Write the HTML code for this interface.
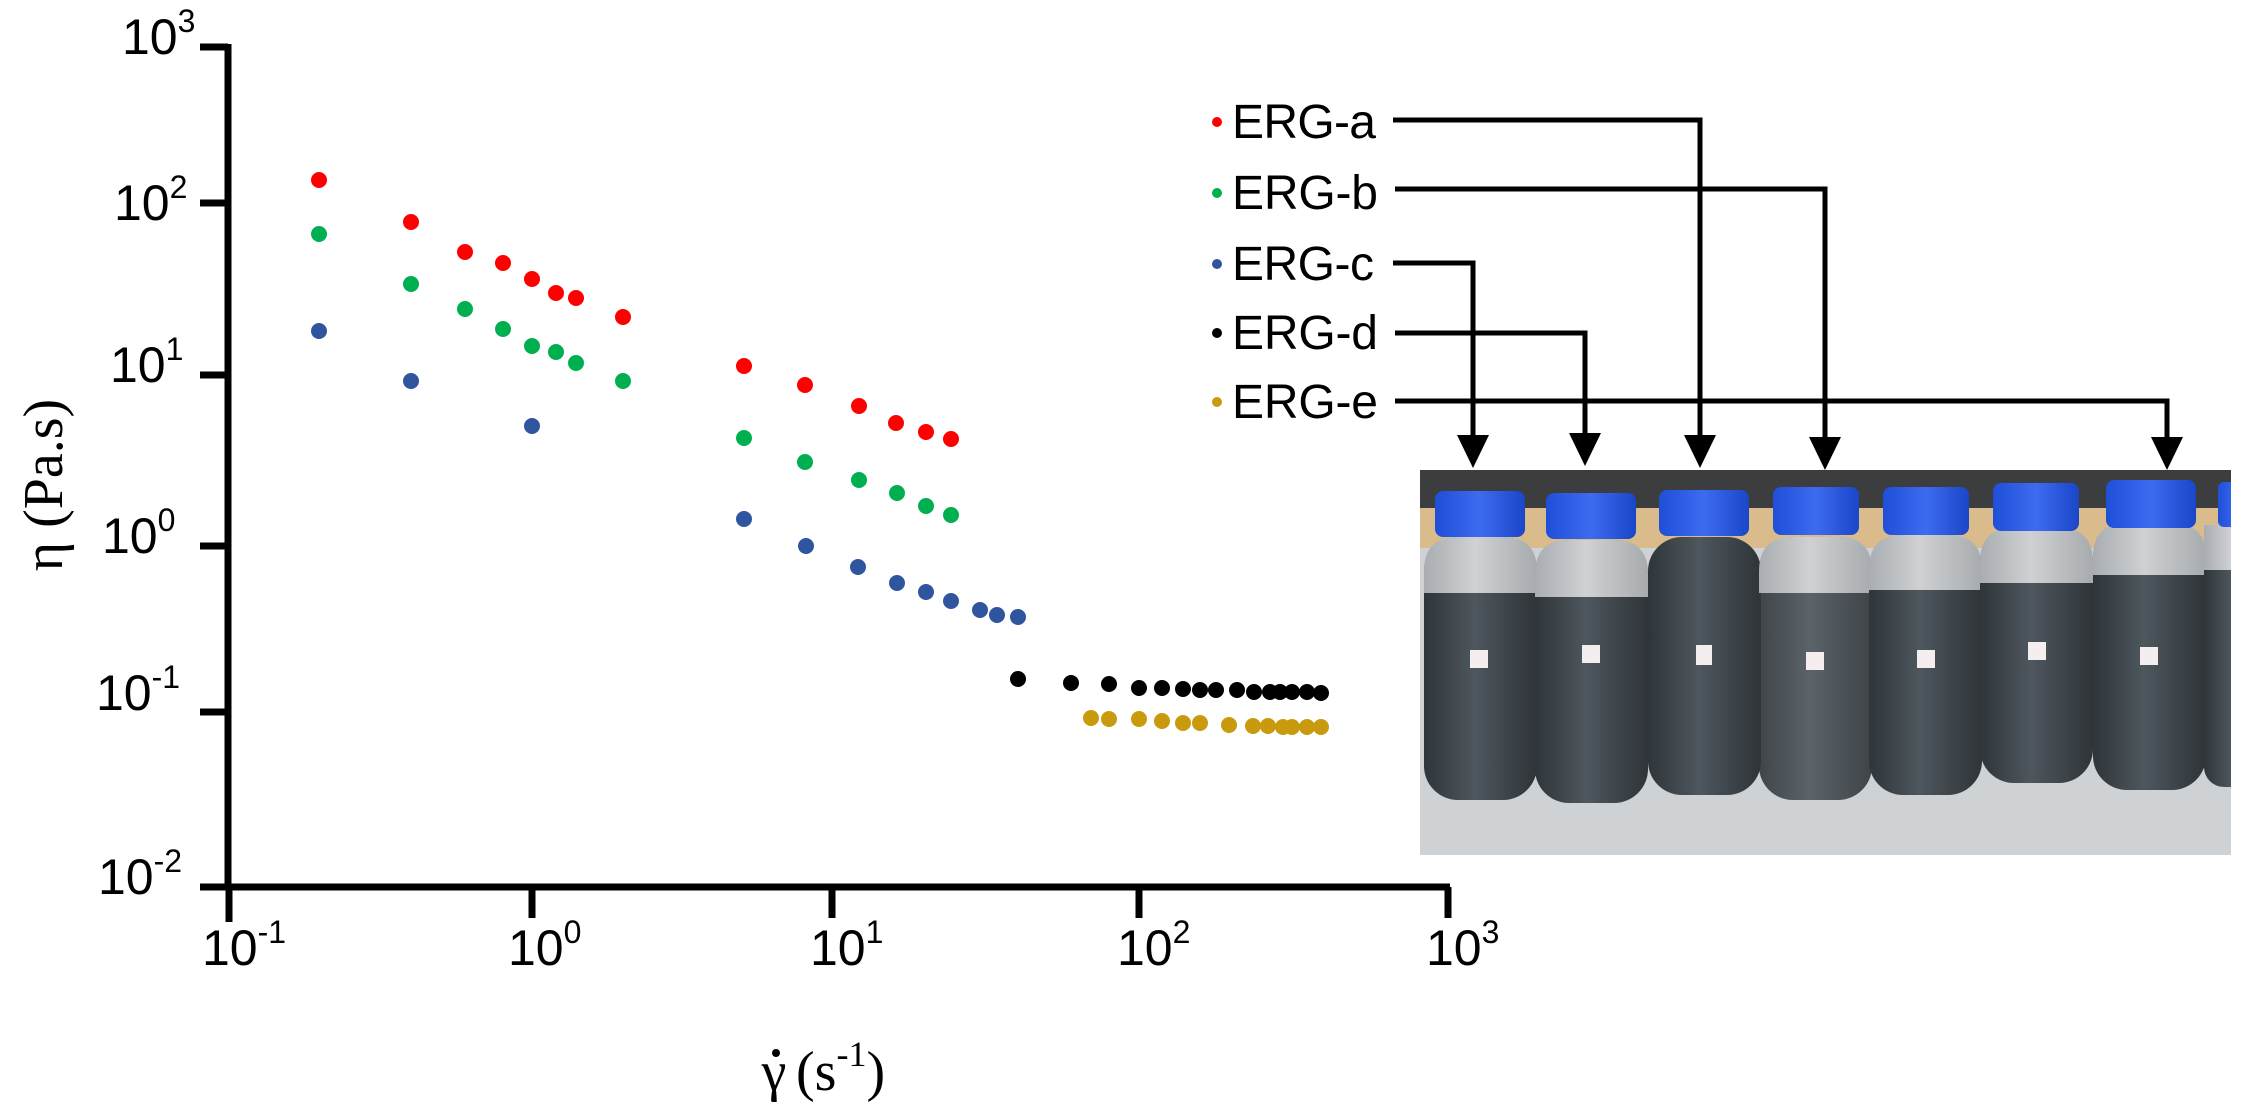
<!DOCTYPE html>
<html><head><meta charset="utf-8"><style>
html,body{margin:0;padding:0;background:#fff;}
svg{display:block;}
</style></head><body>
<svg width="2246" height="1110" viewBox="0 0 2246 1110" xmlns="http://www.w3.org/2000/svg">
<rect width="2246" height="1110" fill="#fff"/>
<g stroke="#000" stroke-width="7" fill="none">
<line x1="228" y1="44" x2="228" y2="890"/>
<line x1="200" y1="887" x2="1450" y2="887"/>
<line x1="200" y1="47" x2="228" y2="47"/>
<line x1="200" y1="203" x2="228" y2="203"/>
<line x1="200" y1="375" x2="228" y2="375"/>
<line x1="200" y1="546" x2="228" y2="546"/>
<line x1="200" y1="712" x2="228" y2="712"/>
<line x1="229" y1="887" x2="229" y2="922"/>
<line x1="532" y1="887" x2="532" y2="918"/>
<line x1="832" y1="887" x2="832" y2="918"/>
<line x1="1139" y1="887" x2="1139" y2="918"/>
<line x1="1448" y1="887" x2="1448" y2="918"/>
</g>
<g font-family="Liberation Sans, sans-serif" font-size="50" fill="#000">
<text x="122" y="54">10<tspan font-size="32" dy="-22">3</tspan></text>
<text x="114" y="220">10<tspan font-size="32" dy="-22">2</tspan></text>
<text x="110" y="382">10<tspan font-size="32" dy="-22">1</tspan></text>
<text x="102" y="553">10<tspan font-size="32" dy="-22">0</tspan></text>
<text x="96" y="710">10<tspan font-size="32" dy="-22">-1</tspan></text>
<text x="98" y="894">10<tspan font-size="32" dy="-22">-2</tspan></text>
<text x="202" y="965">10<tspan font-size="32" dy="-22">-1</tspan></text>
<text x="508" y="965">10<tspan font-size="32" dy="-22">0</tspan></text>
<text x="810" y="965">10<tspan font-size="32" dy="-22">1</tspan></text>
<text x="1117" y="965">10<tspan font-size="32" dy="-22">2</tspan></text>
<text x="1426" y="965">10<tspan font-size="32" dy="-22">3</tspan></text>
</g>
<g font-family="Liberation Serif, serif" font-size="56" fill="#000">
<text transform="translate(62,485) rotate(-90)" text-anchor="middle">η (Pa.s)</text>
<text x="774" y="1090" text-anchor="middle">γ</text>
<circle cx="776" cy="1053" r="4"/>
<text x="796" y="1090">(s<tspan font-size="36" dy="-24">-1</tspan><tspan dy="24">)</tspan></text>
</g>
<g fill="#ff0000">
<circle cx="319" cy="180" r="8"/><circle cx="411" cy="222" r="8"/><circle cx="465" cy="252" r="8"/><circle cx="503" cy="263" r="8"/><circle cx="532" cy="279" r="8"/><circle cx="556" cy="293" r="8"/><circle cx="576" cy="298" r="8"/><circle cx="623" cy="317" r="8"/><circle cx="744" cy="366" r="8"/><circle cx="805" cy="385" r="8"/><circle cx="859" cy="406" r="8"/><circle cx="896" cy="423" r="8"/><circle cx="926" cy="432" r="8"/><circle cx="951" cy="439" r="8"/>
</g>
<g fill="#00b050">
<circle cx="319" cy="234" r="8"/><circle cx="411" cy="284" r="8"/><circle cx="465" cy="309" r="8"/><circle cx="503" cy="329" r="8"/><circle cx="532" cy="346" r="8"/><circle cx="556" cy="352" r="8"/><circle cx="576" cy="363" r="8"/><circle cx="623" cy="381" r="8"/><circle cx="744" cy="438" r="8"/><circle cx="805" cy="462" r="8"/><circle cx="859" cy="480" r="8"/><circle cx="897" cy="493" r="8"/><circle cx="926" cy="506" r="8"/><circle cx="951" cy="515" r="8"/>
</g>
<g fill="#2f559e">
<circle cx="319" cy="331" r="8"/><circle cx="411" cy="381" r="8"/><circle cx="532" cy="426" r="8"/><circle cx="744" cy="519" r="8"/><circle cx="806" cy="546" r="8"/><circle cx="858" cy="567" r="8"/><circle cx="897" cy="583" r="8"/><circle cx="926" cy="592" r="8"/><circle cx="951" cy="601" r="8"/><circle cx="980" cy="610" r="8"/><circle cx="997" cy="615" r="8"/><circle cx="1018" cy="617" r="8"/>
</g>
<g fill="#000">
<circle cx="1018" cy="679" r="8"/><circle cx="1071" cy="683" r="8"/><circle cx="1109" cy="684" r="8"/><circle cx="1139" cy="688" r="8"/><circle cx="1162" cy="688" r="8"/><circle cx="1183" cy="689" r="8"/><circle cx="1200" cy="690" r="8"/><circle cx="1216" cy="690" r="8"/><circle cx="1237" cy="690" r="8"/><circle cx="1254" cy="692" r="8"/><circle cx="1270" cy="692" r="8"/><circle cx="1280" cy="692" r="8"/><circle cx="1292" cy="692" r="8"/><circle cx="1307" cy="692" r="8"/><circle cx="1321" cy="693" r="8"/>
</g>
<g fill="#c99a0e">
<circle cx="1091" cy="718" r="8"/><circle cx="1109" cy="719" r="8"/><circle cx="1139" cy="719" r="8"/><circle cx="1162" cy="721" r="8"/><circle cx="1183" cy="723" r="8"/><circle cx="1200" cy="723" r="8"/><circle cx="1229" cy="725" r="8"/><circle cx="1253" cy="726" r="8"/><circle cx="1268" cy="726" r="8"/><circle cx="1283" cy="727" r="8"/><circle cx="1292" cy="727" r="8"/><circle cx="1307" cy="727" r="8"/><circle cx="1321" cy="727" r="8"/>
</g>
<g font-family="Liberation Sans, sans-serif" font-size="48" fill="#000">
<circle cx="1217" cy="122" r="5" fill="#ff0000"/><text x="1232" y="138" textLength="144">ERG-a</text>
<circle cx="1217" cy="193" r="5" fill="#00b050"/><text x="1232" y="209" textLength="146">ERG-b</text>
<circle cx="1217" cy="264" r="5" fill="#2f559e"/><text x="1232" y="280" textLength="142">ERG-c</text>
<circle cx="1217" cy="333" r="5" fill="#000"/><text x="1232" y="349" textLength="146">ERG-d</text>
<circle cx="1217" cy="402" r="5" fill="#c99a0e"/><text x="1232" y="418" textLength="146">ERG-e</text>
</g>
<g stroke="#000" stroke-width="5" fill="none">
<polyline points="1393,120 1700,120 1700,440"/>
<polyline points="1395,189 1825,189 1825,440"/>
<polyline points="1393,263 1473,263 1473,440"/>
<polyline points="1395,333 1585,333 1585,440"/>
<polyline points="1395,401 2167,401 2167,440"/>
</g>
<g fill="#000">
<polygon points="1457,435 1489,435 1473,468"/>
<polygon points="1569,433 1601,433 1585,466"/>
<polygon points="1684,435 1716,435 1700,468"/>
<polygon points="1809,437 1841,437 1825,470"/>
<polygon points="2151,437 2183,437 2167,470"/>
</g>
<defs>
<clipPath id="ph"><rect x="1420" y="470" width="811" height="385"/></clipPath>
<linearGradient id="dk" x1="0" x2="1" y1="0" y2="0"><stop offset="0" stop-color="#2f3539"/><stop offset="0.45" stop-color="#4e575e"/><stop offset="1" stop-color="#2e3438"/></linearGradient>
<linearGradient id="lt" x1="0" x2="1" y1="0" y2="0"><stop offset="0" stop-color="#a9adb1"/><stop offset="0.45" stop-color="#cfd1d3"/><stop offset="1" stop-color="#a7abae"/></linearGradient>
<linearGradient id="cap" x1="0" x2="1" y1="0" y2="0"><stop offset="0" stop-color="#1f4fd8"/><stop offset="0.5" stop-color="#3d6bf0"/><stop offset="1" stop-color="#1a46c8"/></linearGradient>
</defs>
<g clip-path="url(#ph)">
<rect x="1420" y="470" width="811" height="385" fill="#cfd2d4"/>
<rect x="1420" y="470" width="811" height="40" fill="#3b3d3e"/>
<rect x="1420" y="508" width="811" height="40" fill="#d9bb8c"/>
<rect x="1424" y="537" width="113" height="263" rx="34" fill="url(#dk)"/><path d="M1424,593 V571 Q1424,537 1458,537 H1503 Q1537,537 1537,571 V593 Z" fill="url(#lt)"/><rect x="1435" y="491" width="90" height="46" rx="8" fill="url(#cap)"/><rect x="1470" y="650" width="18" height="18" fill="#f4eeee"/>
<rect x="1535" y="540" width="113" height="263" rx="34" fill="url(#dk)"/><path d="M1535,597 V574 Q1535,540 1569,540 H1614 Q1648,540 1648,574 V597 Z" fill="url(#lt)"/><rect x="1546" y="493" width="90" height="46" rx="8" fill="url(#cap)"/><rect x="1582" y="645" width="18" height="18" fill="#f4eeee"/>
<rect x="1648" y="537" width="113" height="258" rx="34" fill="url(#dk)"/><rect x="1659" y="490" width="90" height="46" rx="8" fill="url(#cap)"/><rect x="1696" y="645" width="16" height="20" fill="#f4eeee"/>
<rect x="1759" y="537" width="113" height="263" rx="34" fill="url(#dk)" opacity="0.9"/><path d="M1759,593 V571 Q1759,537 1793,537 H1838 Q1872,537 1872,571 V593 Z" fill="url(#lt)"/><rect x="1773" y="487" width="86" height="48" rx="8" fill="url(#cap)"/><rect x="1806" y="652" width="18" height="18" fill="#f4eeee"/>
<rect x="1869" y="535" width="113" height="260" rx="34" fill="url(#dk)"/><path d="M1869,590 V569 Q1869,535 1903,535 H1948 Q1982,535 1982,569 V590 Z" fill="url(#lt)"/><rect x="1883" y="487" width="86" height="48" rx="8" fill="url(#cap)"/><rect x="1917" y="650" width="18" height="18" fill="#f4eeee"/>
<rect x="1980" y="528" width="113" height="255" rx="34" fill="url(#dk)"/><path d="M1980,583 V562 Q1980,528 2014,528 H2059 Q2093,528 2093,562 V583 Z" fill="url(#lt)"/><rect x="1993" y="483" width="86" height="48" rx="8" fill="url(#cap)"/><rect x="2028" y="642" width="18" height="18" fill="#f4eeee"/>
<rect x="2093" y="523" width="113" height="267" rx="34" fill="url(#dk)"/><path d="M2093,575 V557 Q2093,523 2127,523 H2172 Q2206,523 2206,557 V575 Z" fill="url(#lt)"/><rect x="2106" y="480" width="90" height="48" rx="8" fill="url(#cap)"/><rect x="2140" y="647" width="18" height="18" fill="#f4eeee"/>
<rect x="2204" y="525" width="60" height="262" rx="20" fill="url(#dk)"/><rect x="2204" y="525" width="60" height="45" fill="url(#lt)"/><rect x="2218" y="482" width="40" height="45" rx="6" fill="url(#cap)"/>
</g>
</svg>
</body></html>
